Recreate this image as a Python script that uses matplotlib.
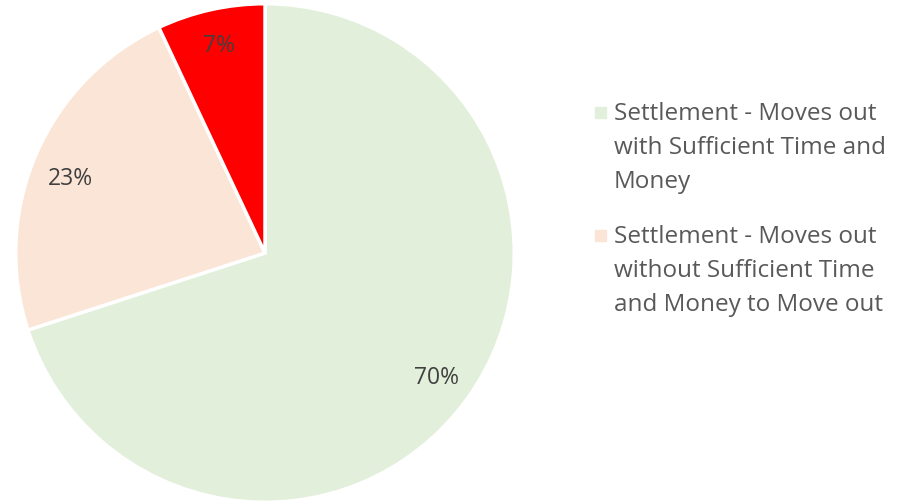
import matplotlib

matplotlib.use("Agg")
import matplotlib.pyplot as plt
from matplotlib.patches import Rectangle

# --- data ---
LABELS = [
    "Settlement - Moves out\nwith Sufficient Time and\nMoney",
    "Settlement - Moves out\nwithout Sufficient Time\nand Money to Move out",
    "",
]
VALUES = [70, 23, 7]
COLORS = ["#E2EFDA", "#FBE5D6", "#FF0000"]
LEGEND_ENTRIES = 2  # only the first two fit in the original legend

TEXT = "#404040"
LEGEND_TEXT = "#595959"

plt.rcParams["font.family"] = ["Open Sans", "DejaVu Sans"]

W, H = 897, 503
fig = plt.figure(figsize=(W / 100, H / 100), dpi=100)

cx, cy, r = 265, 253, 250
ax = fig.add_axes([(cx - r) / W, (H - cy - r) / H, 2 * r / W, 2 * r / H])
wedges, texts, autotexts = ax.pie(
    VALUES, colors=COLORS, startangle=90, counterclock=False,
    autopct="%1.0f%%", pctdistance=0.85, radius=1,
    wedgeprops=dict(edgecolor="white", linewidth=2.5),
    textprops=dict(fontsize=16.5, color=TEXT),
)
# Excel nudges the small-slice label a bit lower
x, y = autotexts[1].get_position()
autotexts[1].set_position((x, y - 0.04))
ax.set_xlim(-1.003, 1.003)
ax.set_ylim(-1.003, 1.003)
ax.set_aspect("equal")

# legend drawn by hand to get Excel-like wrapping and spacing
ly = [112, 235]
for i in range(LEGEND_ENTRIES):
    y = ly[i]
    fig.patches.append(Rectangle((595 / W, 1 - (y + 6) / H), 11 / W, 11 / H,
                                 transform=fig.transFigure, color=COLORS[i]))
    fig.text(614 / W, 1 - (y - 10) / H, LABELS[i], fontsize=17.5, color=LEGEND_TEXT,
             va="top", ha="left", linespacing=1.55)

fig.savefig("out.png", dpi=100, facecolor="white")
